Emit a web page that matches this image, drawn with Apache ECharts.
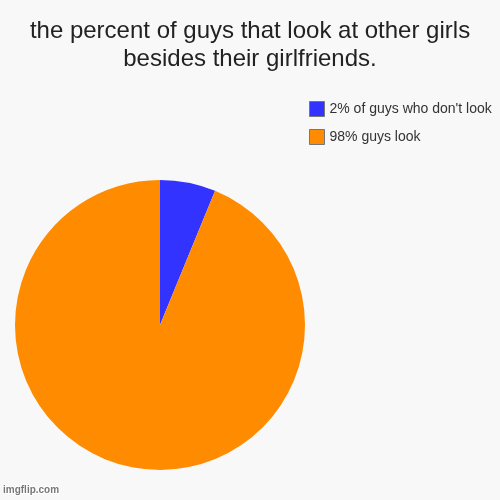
<!DOCTYPE html>
<html>
<head>
<meta charset="utf-8">
<script src="https://cdn.jsdelivr.net/npm/echarts@6/dist/echarts.min.js"></script>
<style>
  html, body { margin: 0; padding: 0; background: #f8f8f8; }
  #chart { width: 500px; height: 500px; }
</style>
</head>
<body>
<div id="chart"></div>
<script>
var labels = ["2% of guys who don't look", "98% guys look"];
var values = [6.2, 93.8];
var colors = ['#3333ff', '#ff8c00'];

var myChart = echarts.init(document.getElementById('chart'));

var pieData = labels.map(function (name, i) {
    return { name: name, value: values[i], itemStyle: { color: colors[i] } };
});

var option = {
    backgroundColor: '#f8f8f8',
    animation: false,
    title: {
        text: 'the percent of guys that look at other girls\nbesides their girlfriends.',
        left: 'center',
        top: 12,
        textStyle: {
            fontFamily: 'Liberation Sans, Arial, sans-serif',
            fontSize: 24,
            fontWeight: 'normal',
            color: '#222',
            lineHeight: 28
        }
    },
    legend: {
        orient: 'vertical',
        left: 304,
        top: 96,
        itemWidth: 15,
        itemHeight: 15,
        itemGap: 12,
        icon: 'rect',
        itemStyle: { borderColor: '#777', borderWidth: 1 },
        textStyle: {
            fontFamily: 'Liberation Sans, Arial, sans-serif',
            fontSize: 14,
            color: '#333'
        },
        data: labels
    },
    graphic: [{
        type: 'text',
        left: 2,
        bottom: 4,
        style: {
            text: 'imgflip.com',
            font: 'bold 10px Liberation Sans, Arial, sans-serif',
            fill: '#777',
            stroke: '#fff',
            lineWidth: 2
        }
    }],
    series: [{
        type: 'pie',
        center: [160, 325],
        radius: 145,
        startAngle: 90,
        clockwise: true,
        label: { show: false },
        labelLine: { show: false },
        emphasis: { disabled: true },
        itemStyle: { borderWidth: 0 },
        data: pieData
    }]
};

myChart.setOption(option);
</script>
</body>
</html>
